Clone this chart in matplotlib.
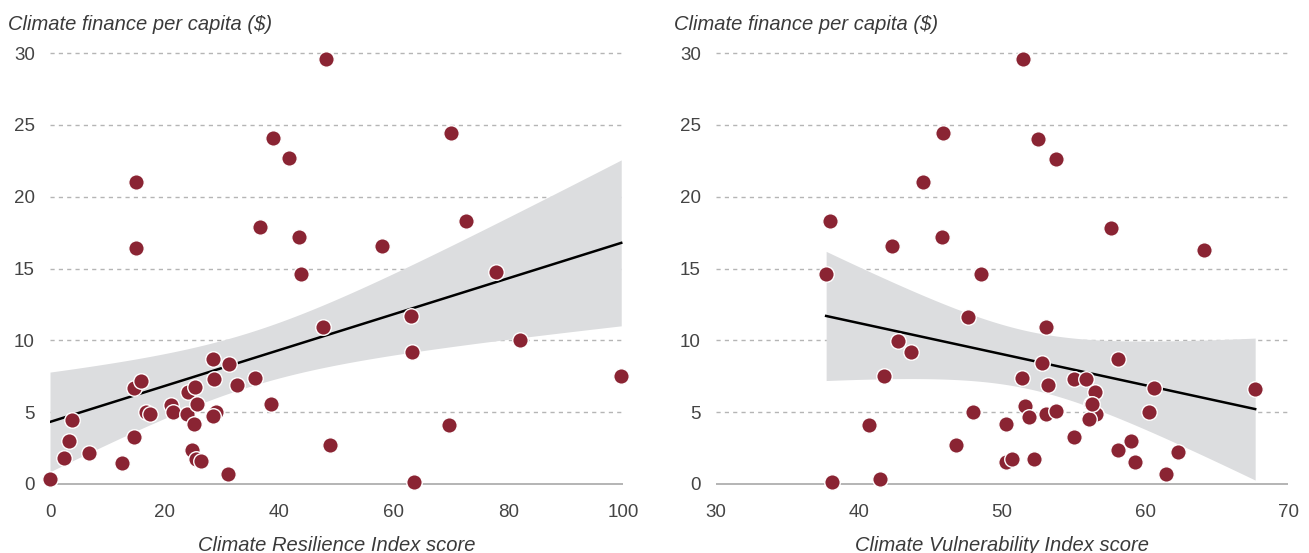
import numpy as np
import matplotlib
matplotlib.use("Agg")
import matplotlib.pyplot as plt

# data
resilience = [48.2, 38.9, 41.7, 15.0, 70.0, 36.6, 43.5, 15.0, 72.6, 57.9,
              43.8, 77.8, 47.6, 63.0, 63.2, 82.0, 99.7, 69.6, 48.9, 63.5,
              0.0, 2.4, 3.3, 3.8, 6.8, 12.6, 14.7, 14.6, 15.9, 16.8,
              17.5, 21.1, 21.4, 23.9, 24.1, 25.3, 25.6, 25.1, 24.8, 25.5,
              26.4, 28.4, 28.6, 29.0, 28.4, 31.2, 32.6, 35.8, 38.6, 31.0]
finance_res = [29.6, 24.1, 22.7, 21.0, 24.4, 17.9, 17.2, 16.4, 18.3, 16.6,
               14.6, 14.75, 10.9, 11.7, 9.2, 10.0, 7.5, 4.1, 2.7, 0.15,
               0.35, 1.8, 3.0, 4.45, 2.15, 1.45, 3.3, 6.7, 7.2, 5.0,
               4.9, 5.5, 5.0, 4.9, 6.4, 6.75, 5.55, 4.2, 2.4, 1.75,
               1.6, 8.7, 7.3, 5.0, 4.7, 8.35, 6.9, 7.4, 5.6, 0.7]

vulnerability = [37.7, 47.6, 48.5, 42.7, 43.6, 41.75, 48.0, 40.7, 46.8, 38.1,
                 41.5, 53.05, 52.8, 51.4, 53.2, 55.05, 55.85, 56.5, 56.2, 56.6,
                 56.1, 58.1, 60.6, 60.3, 67.7, 51.6, 51.9, 53.05, 53.75, 50.3,
                 55.0, 58.1, 59.0, 59.3, 62.3, 61.5, 50.3, 50.7, 52.2, 45.9,
                 44.5, 37.95, 42.3, 45.8, 51.5, 52.5, 53.8, 57.6, 64.1, 56.3]
finance_vul = [14.6, 11.65, 14.6, 9.95, 9.2, 7.5, 5.0, 4.1, 2.7, 0.15,
               0.33, 10.9, 8.4, 7.4, 6.9, 7.3, 7.3, 6.4, 5.55, 4.9,
               4.5, 8.7, 6.7, 5.0, 6.6, 5.45, 4.65, 4.9, 5.05, 4.2,
               3.3, 2.4, 3.0, 1.5, 2.2, 0.7, 1.5, 1.75, 1.75, 24.4,
               21.0, 18.3, 16.55, 17.2, 29.6, 24.05, 22.65, 17.85, 16.3, 5.6]

y_ticks = [0, 5, 10, 15, 20, 25, 30]

DOT = '#8a2433'
BAND = '#dcdddf'
TXT = '#3a3a3a'

plt.rcParams['font.family'] = ['Liberation Sans', 'DejaVu Sans']


def fit_band(x, y, t=2.0106):
    # OLS fit with 95% confidence band for the mean
    x = np.asarray(x, float)
    y = np.asarray(y, float)
    n = len(x)
    b, a = np.polyfit(x, y, 1)
    resid = y - (a + b * x)
    s = np.sqrt((resid ** 2).sum() / (n - 2))
    sxx = ((x - x.mean()) ** 2).sum()
    xs = np.linspace(x.min(), x.max(), 200)
    ys = a + b * xs
    half = t * s * np.sqrt(1 / n + (xs - x.mean()) ** 2 / sxx)
    return xs, ys, ys - half, ys + half


def panel(ax, x, y, xlim, xticks, xlabel):
    xs, ys, lo, hi = fit_band(x, y)
    ax.set_xlim(*xlim)
    ax.set_ylim(-0.6, 30.6)
    for v in y_ticks[1:]:
        ax.axhline(v, color='#b5b5b5', lw=1, ls=(0, (3, 3)), zorder=0)
    ax.axhline(0, color='#a8a8a8', lw=1.2, zorder=0)
    ax.fill_between(xs, lo, hi, color=BAND, lw=0, zorder=1)
    ax.plot(xs, ys, color='black', lw=1.8, zorder=2)
    ax.scatter(x, y, s=125, color=DOT, edgecolor='white', linewidth=1,
               zorder=3, clip_on=False)
    for sp in ax.spines.values():
        sp.set_visible(False)
    ax.set_yticks(y_ticks)
    ax.set_xticks(xticks)
    ax.tick_params(length=0, labelsize=13.5, labelcolor='#444444')
    ax.tick_params(axis='y', pad=11)
    ax.tick_params(axis='x', pad=8)
    ax.set_xlabel(xlabel, fontsize=14.5, style='italic', color=TXT, labelpad=11)
    ax.text(-0.073, 1.032, 'Climate finance per capita ($)', transform=ax.transAxes,
            fontsize=14.5, style='italic', color=TXT, ha='left', va='baseline')


fig = plt.figure(figsize=(13.09, 5.53), dpi=100)
ax1 = fig.add_axes([0.0382, 0.1092, 0.4377, 0.8105])
ax2 = fig.add_axes([0.547, 0.1092, 0.437, 0.8105])

panel(ax1, resilience, finance_res, (0, 100), [0, 20, 40, 60, 80, 100],
      'Climate Resilience Index score')
panel(ax2, vulnerability, finance_vul, (30, 70), [30, 40, 50, 60, 70],
      'Climate Vulnerability Index score')

fig.savefig('out.png', dpi=100)
